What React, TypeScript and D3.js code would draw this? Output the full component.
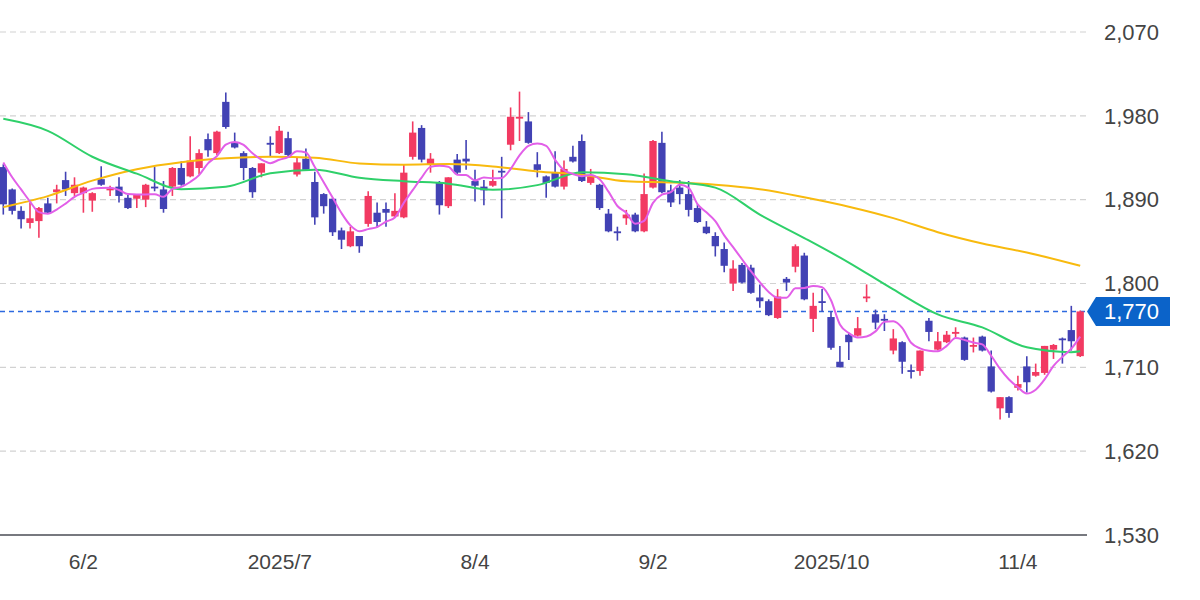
import React from "react";
import * as d3 from "d3";

// 取引日 (2025年)
const dates = [
  "05-20", "05-21", "05-22", "05-23", "05-26", "05-27", "05-28", "05-29", "05-30",
  "06-02", "06-03", "06-04", "06-05", "06-06", "06-09", "06-10", "06-11", "06-12", "06-13",
  "06-16", "06-17", "06-18", "06-19", "06-20", "06-23", "06-24", "06-25", "06-26", "06-27", "06-30",
  "07-01", "07-02", "07-03", "07-04", "07-07", "07-08", "07-09", "07-10", "07-11",
  "07-14", "07-15", "07-16", "07-17", "07-18", "07-22", "07-23", "07-24", "07-25",
  "07-28", "07-29", "07-30", "07-31",
  "08-01", "08-04", "08-05", "08-06", "08-07", "08-08", "08-12", "08-13", "08-14", "08-15",
  "08-18", "08-19", "08-20", "08-21", "08-22", "08-25", "08-26", "08-27", "08-28", "08-29",
  "09-01", "09-02", "09-03", "09-04", "09-05", "09-08", "09-09", "09-10", "09-11", "09-12",
  "09-16", "09-17", "09-18", "09-19", "09-22", "09-24", "09-25", "09-26", "09-29", "09-30",
  "10-01", "10-02", "10-03", "10-06", "10-07", "10-08", "10-09", "10-10",
  "10-14", "10-15", "10-16", "10-17", "10-20", "10-21", "10-22", "10-23", "10-24",
  "10-27", "10-28", "10-29", "10-30", "10-31",
  "11-04", "11-05", "11-06", "11-07", "11-10", "11-11", "11-12", "11-13",
];

const opens = [
  1925, 1901, 1878, 1865, 1867, 1886, 1898, 1911, 1897,
  1897, 1889, 1912, 1900, 1904, 1892, 1891, 1890, 1904, 1901,
  1904, 1924, 1915, 1924, 1955, 1940, 1995, 1952, 1940, 1924, 1919,
  1951, 1940, 1956, 1917, 1934, 1909, 1896, 1891, 1857,
  1840, 1851, 1864, 1876, 1880, 1872, 1871, 1936, 1967,
  1928, 1909, 1883, 1933,
  1934, 1910, 1904, 1905, 1921, 1949, 1977, 1974, 1928, 1915,
  1919, 1904, 1936, 1953, 1908, 1906, 1875, 1856, 1870, 1874,
  1856, 1903, 1951, 1900, 1903, 1896, 1881, 1861, 1851, 1837,
  1800, 1820, 1817, 1785, 1781, 1763, 1805, 1818, 1830, 1762,
  1781, 1764, 1716, 1745, 1744, 1785, 1767, 1762,
  1728, 1737, 1707, 1706, 1760, 1729, 1737, 1746, 1742,
  1733, 1743, 1711, 1666, 1678,
  1688, 1711, 1701, 1704, 1729, 1741, 1750, 1722,
];

const highs = [
  1928, 1902, 1883, 1887, 1882, 1892, 1906, 1920, 1914,
  1904, 1898, 1926, 1905, 1914, 1895, 1896, 1907, 1925, 1910,
  1925, 1931, 1958, 1944, 1961, 1964, 2005, 1962, 1942, 1925, 1929,
  1958, 1969, 1963, 1935, 1945, 1920, 1897, 1892, 1860,
  1861, 1851, 1899, 1887, 1887, 1897, 1928, 1974, 1970,
  1940, 1910, 1914, 1939,
  1954, 1922, 1911, 1922, 1936, 1989, 2006, 1984, 1941, 1916,
  1942, 1932, 1948, 1960, 1923, 1907, 1880, 1861, 1879, 1876,
  1918, 1954, 1963, 1906, 1911, 1910, 1885, 1867, 1855, 1844,
  1825, 1822, 1820, 1799, 1783, 1794, 1807, 1842, 1833, 1790,
  1794, 1770, 1733, 1747, 1764, 1799, 1772, 1767,
  1751, 1738, 1713, 1728, 1763, 1748, 1749, 1753, 1743,
  1742, 1744, 1728, 1678, 1679,
  1701, 1722, 1714, 1733, 1735, 1742, 1776, 1771,
];

const lows = [
  1874, 1874, 1859, 1859, 1849, 1875, 1886, 1894, 1894,
  1876, 1877, 1905, 1894, 1887, 1880, 1881, 1882, 1899, 1876,
  1894, 1905, 1914, 1917, 1936, 1938, 1966, 1945, 1911, 1892, 1914,
  1936, 1939, 1937, 1915, 1921, 1863, 1875, 1851, 1837,
  1839, 1833, 1861, 1860, 1861, 1871, 1870, 1933, 1930,
  1919, 1874, 1881, 1917,
  1922, 1888, 1884, 1904, 1870, 1943, 1953, 1950, 1914, 1892,
  1903, 1901, 1930, 1909, 1906, 1879, 1855, 1846, 1863, 1855,
  1855, 1902, 1897, 1882, 1885, 1872, 1865, 1853, 1829, 1812,
  1792, 1800, 1789, 1774, 1765, 1762, 1792, 1812, 1782, 1748,
  1770, 1729, 1710, 1718, 1743, 1780, 1751, 1749,
  1724, 1703, 1698, 1701, 1738, 1728, 1736, 1742, 1717,
  1726, 1727, 1683, 1654, 1656,
  1685, 1683, 1700, 1702, 1719, 1714, 1728, 1721,
];

const closes = [
  1885, 1878, 1869, 1870, 1881, 1876, 1901, 1901, 1906,
  1903, 1897, 1906, 1902, 1894, 1881, 1895, 1906, 1903, 1880,
  1924, 1906, 1932, 1940, 1943, 1963, 1968, 1946, 1924, 1898, 1929,
  1949, 1964, 1938, 1930, 1922, 1871, 1883, 1855, 1847,
  1856, 1840, 1894, 1866, 1876, 1878, 1919, 1962, 1933,
  1934, 1884, 1914, 1919,
  1931, 1905, 1900, 1910, 1920, 1979, 1979, 1951, 1922, 1908,
  1904, 1923, 1931, 1910, 1915, 1881, 1856, 1854, 1874, 1856,
  1896, 1953, 1898, 1887, 1896, 1879, 1866, 1854, 1840, 1819,
  1816, 1801, 1790, 1781, 1766, 1786, 1801, 1840, 1783, 1776,
  1780, 1731, 1710, 1737, 1752, 1786, 1758, 1761,
  1741, 1716, 1706, 1728, 1748, 1738, 1745, 1748, 1718,
  1734, 1728, 1684, 1678, 1661,
  1692, 1694, 1705, 1733, 1734, 1740, 1738, 1770,
];

// 5日線：先頭4本はチャートから読み取り
const ma5Lead = [1930, 1914, 1901, 1888];

// 25日線・75日線：5本ごと＋最終日の値を読み取り
const ma25Samples = [
  1976.8, 1963.9, 1936.1, 1917.9, 1901.3, 1903.9, 1918.4, 1922.2, 1913.6, 1909.8,
  1907.2, 1900.7, 1905.6, 1919.5, 1917.3, 1909.8, 1902.9, 1874.0, 1848.8, 1822.5,
  1793.6, 1766.8, 1752.9, 1731.5, 1726.3, 1727.2,
];
const ma75Samples = [
  1882.0, 1893.8, 1910.4, 1922.7, 1930.2, 1934.4, 1936.1, 1935.0, 1928.9, 1927.5,
  1928.3, 1925.7, 1920.3, 1916.8, 1909.8, 1908.5, 1906.1, 1901.3, 1892.6, 1882.5,
  1870.2, 1855.1, 1843.0, 1833.2, 1821.5, 1819.0,
];

const yTicks = [2070, 1980, 1890, 1800, 1710, 1620, 1530];
const xTickDates = ["06-02", "07-01", "08-04", "09-02", "10-01", "11-04"];
const xTickLabels = ["6/2", "2025/7", "8/4", "9/2", "2025/10", "11/4"];

const UP = "#f23a62";
const DOWN = "#4242b4";
const FONT = "'Liberation Sans', Arial, Helvetica, sans-serif";

type Pt = { d: string; v: number };

export default function App() {
  const width = 1200;
  const height = 600;
  const plotRight = 1087;

  const x = d3.scalePoint<string>().domain(dates).range([-1.15, 1084.65]).padding(0.5);
  const bodyW = x.step() * 0.82;
  const y = d3.scaleLinear().domain([1530, 2070]).range([535, 32]);
  const fmt = d3.format(",");

  const ma5: Pt[] = dates.map((d, i) => ({
    d,
    v: i < 4 ? ma5Lead[i] : (d3.mean(closes.slice(i - 4, i + 1)) as number),
  }));
  const sampleIdx = [...d3.range(0, dates.length, 5), dates.length - 1];
  const ma25: Pt[] = sampleIdx.map((idx, k) => ({ d: dates[idx], v: ma25Samples[k] }));
  const ma75: Pt[] = sampleIdx.map((idx, k) => ({ d: dates[idx], v: ma75Samples[k] }));

  const line = d3
    .line<Pt>()
    .x((p) => x(p.d)!)
    .y((p) => y(p.v))
    .curve(d3.curveMonotoneX);

  const last = closes[closes.length - 1];
  const ly = y(last);

  return (
    <svg
      width={width}
      height={height}
      style={{ position: "absolute", left: 0, top: 0, background: "#fff" }}
      fontFamily={FONT}
    >
      <defs>
        <clipPath id="plot">
          <rect x={0} y={0} width={plotRight} height={536} />
        </clipPath>
      </defs>

      {/* 横グリッド */}
      {yTicks.slice(0, -1).map((t) => (
        <line
          key={t}
          x1={0}
          x2={plotRight}
          y1={y(t)}
          y2={y(t)}
          stroke="#d2d2d2"
          strokeWidth={1.2}
          strokeDasharray="6 4"
        />
      ))}

      {/* 現在値ライン */}
      <line
        x1={0}
        x2={plotRight}
        y1={Math.round(ly) + 0.5}
        y2={Math.round(ly) + 0.5}
        stroke="#2d6ae0"
        strokeWidth={1.3}
        strokeDasharray="5 4"
      />

      <g clipPath="url(#plot)">
        {dates.map((d, i) => {
          const cx = x(d)!;
          const o = opens[i];
          const c = closes[i];
          const color = c >= o ? UP : DOWN;
          const top = y(Math.max(o, c));
          const bh = Math.max(1.8, y(Math.min(o, c)) - top);
          return (
            <g key={d}>
              <line x1={cx} x2={cx} y1={y(highs[i])} y2={y(lows[i])} stroke={color} strokeWidth={1.6} />
              <rect x={cx - bodyW / 2} y={top} width={bodyW} height={bh} fill={color} />
            </g>
          );
        })}

        <path d={line(ma75)!} fill="none" stroke="#f8ba0e" strokeWidth={2} />
        <path d={line(ma25)!} fill="none" stroke="#2fd06a" strokeWidth={2} />
        <path d={line(ma5)!} fill="none" stroke="#e25fe8" strokeWidth={2} />
      </g>

      {/* 軸線 */}
      <line x1={0} x2={plotRight} y1={y(1530)} y2={y(1530)} stroke="#4a4d55" strokeWidth={1.5} />

      {/* 価格ラベル */}
      {yTicks.map((t) => (
        <text key={t} x={1104} y={y(t)} dy="0.35em" fontSize={22} fill="#444">
          {fmt(t)}
        </text>
      ))}

      {/* 日付ラベル */}
      {xTickDates.map((d, k) => (
        <text
          key={d}
          x={x(d)! + (xTickLabels[k].length > 5 ? 9.5 : 0)}
          y={562}
          dy="0.35em"
          textAnchor="middle"
          fontSize={21}
          fill="#444"
        >
          {xTickLabels[k]}
        </text>
      ))}

      {/* 現在値バッジ */}
      <path
        d={`M${plotRight},${ly} L${plotRight + 9},${ly - 14.5} L1170,${ly - 14.5} L1170,${ly + 14.5} L${plotRight + 9},${ly + 14.5} Z`}
        fill="#0b63c9"
      />
      <text x={1104} y={ly} dy="0.35em" fontSize={22} fill="#fff">
        {fmt(last)}
      </text>
    </svg>
  );
}
